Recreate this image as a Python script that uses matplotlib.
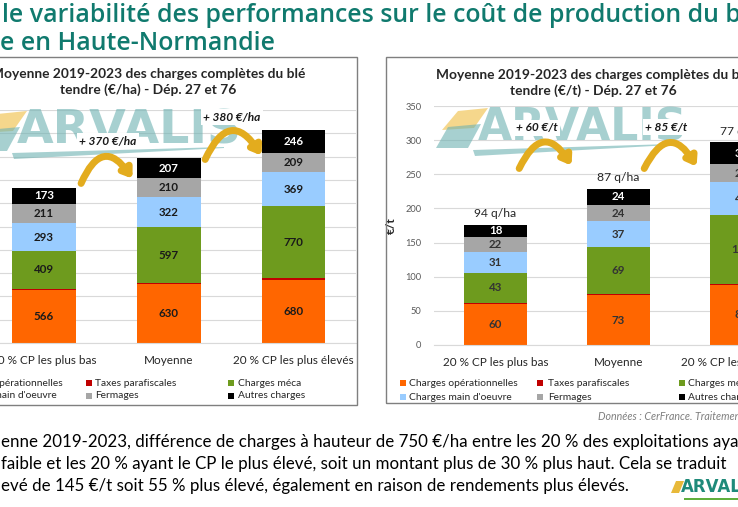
import matplotlib
matplotlib.use('Agg')
import matplotlib.pyplot as plt
from matplotlib.patches import Rectangle, Polygon, FancyArrowPatch
import numpy as np

# ---------------- data ----------------
categories = ['20 % CP les plus bas', 'Moyenne', '20 % CP les plus élevés']
series = ['Charges opérationnelles', 'Taxes parafiscales', 'Charges méca',
          "Charges main d'oeuvre", 'Fermages', 'Autres charges']
colors = ['#FF6600', '#C00000', '#6E9B1E', '#99CCFF', '#A6A6A6', '#000000']

ha_operationnelles = [566, 630, 680]
ha_taxes = [15, 15, 15]
ha_meca = [409, 597, 770]
ha_main = [293, 322, 369]
ha_fermages = [211, 210, 209]
ha_autres = [173, 207, 246]

t_operationnelles = [60, 73, 88]
t_taxes = [2, 2, 2]
t_meca = [43, 69, 100]
t_main = [31, 37, 48]
t_fermages = [22, 24, 27]
t_autres = [18, 24, 32]

yields = ['94 q/ha', '87 q/ha', '77 q/ha']
ha_diffs = ['+ 370 €/ha', '+ 380 €/ha']
t_diffs = ['+ 60 €/t', '+ 85 €/t']

ha_ticks = list(range(0, 2501, 250))
t_ticks = list(range(0, 351, 50))

title_lines = ['le variabilité des performances sur le coût de production du blé',
               'e en Haute-Normandie']
body_lines = ['enne 2019-2023, différence de charges à hauteur de 750 €/ha entre les 20 % des exploitations ayant',
              'faible et les 20 % ayant le CP le plus élevé, soit un montant plus de 30 % plus haut. Cela se traduit',
              'evé de 145 €/t soit 55 % plus élevé, également en raison de rendements plus élevés.']
chart1_title = 'Moyenne 2019-2023 des charges complètes du blé\ntendre (€/ha) - Dép. 27 et 76'
chart2_title = 'Moyenne 2019-2023 des charges complètes du blé\ntendre (€/t) - Dép. 27 et 76'
source_text = 'Données : CerFrance. Traitement ARVALIS'

# ---------------- layout helpers ----------------
W, H = 738, 507
fig = plt.figure(figsize=(W / 100, H / 100), dpi=100)
fig.patch.set_facecolor('white')
r = fig.canvas.get_renderer()
FONT = 'Lato'


def fx(p):
    return p / W


def fy(p):
    return 1 - p / H


def size_for(s, target, **kw):
    t = fig.text(0, 0, s, fontsize=10, **kw)
    w = t.get_window_extent(r).width
    t.remove()
    return 10 * target / w


TEAL = '#107A6E'
s_title = size_for('le variabilité des performances sur le coût de production du b', 738,
                   family='Open Sans', weight='semibold')
s_body = size_for(body_lines[2], 627, family=FONT)
s_ctitle = size_for('tendre (€/t) - Dép. 27 et 76', 167, family=FONT, weight='bold')
s_tick = size_for('20 % CP les plus bas', 105, family=FONT)
s_leg = size_for('Charges opérationnelles', 109, family=FONT)
s_bar = size_for('566', 20, family=FONT, weight='bold')
s_ann = size_for('+ 370 €/ha', 57, family=FONT, weight='bold', style='italic')
s_yield = size_for('87 q/ha', 42, family=FONT)
s_ytick = size_for('350', 16, family=FONT)
s_src = size_for('Données : CerFrance.', 95, family=FONT, style='italic')

# ---------------- slide text ----------------
fig.text(fx(2), fy(15), title_lines[0], fontsize=s_title, family='Open Sans',
         weight='semibold', color=TEAL, va='center', ha='left')
fig.text(fx(0), fy(43), title_lines[1], fontsize=s_title, family='Open Sans',
         weight='semibold', color=TEAL, va='center', ha='left')
for i, line in enumerate(body_lines):
    fig.text(fx(1), fy(442 + 22 * i), line, fontsize=s_body, family=FONT,
             color='black', va='center', ha='left')
fig.text(fx(598), fy(417), source_text, fontsize=s_src, family=FONT,
         style='italic', color='#7F7F7F', va='center', ha='left')

# chart boxes
fig.patches.append(Rectangle((fx(-61), fy(405)), fx(357 + 61), (405 - 57) / H,
                             transform=fig.transFigure, fill=False,
                             edgecolor='#7F7F7F', lw=1.0))
fig.patches.append(Rectangle((fx(386), fy(403)), fx(800 - 386), (403 - 57) / H,
                             transform=fig.transFigure, fill=False,
                             edgecolor='#7F7F7F', lw=1.0))


# ---------------- charts ----------------
def draw_chart(rect, data, ticks, label_fc):
    ax = fig.add_axes(rect)
    x = np.arange(len(categories))
    bottom = np.zeros(len(categories))
    for k, (vals, c) in enumerate(zip(data, colors)):
        vals = np.array(vals, dtype=float)
        ax.bar(x, vals, width=0.51, bottom=bottom, color=c, edgecolor='none', zorder=2)
        if k != 1:
            tc = 'white' if c == '#000000' else label_fc
            for xi, b, v in zip(x, bottom, vals):
                ax.text(xi, b + v / 2, f'{v:.0f}', ha='center', va='center',
                        fontsize=s_bar, family=FONT, weight='bold', color=tc, zorder=3)
        bottom += vals
    ax.set_xlim(-0.5, 2.5)
    ax.set_ylim(ticks[0], ticks[-1])
    ax.set_yticks(ticks)
    ax.yaxis.grid(True, color='#D9D9D9', lw=0.8, zorder=0)
    ax.set_axisbelow(True)
    for sp in ['top', 'right', 'left']:
        ax.spines[sp].set_visible(False)
    ax.spines['bottom'].set_color('#D9D9D9')
    ax.set_xticks(x)
    ax.set_xticklabels(categories, fontsize=s_tick, family=FONT, color='#262626')
    ax.tick_params(axis='x', length=0, pad=9)
    ax.tick_params(axis='y', length=0, pad=9, labelsize=s_ytick, labelcolor='#595959')
    for lab in ax.get_yticklabels():
        lab.set_family(FONT)
    ax.patch.set_alpha(0)
    return ax, bottom


ha_data = [ha_operationnelles, ha_taxes, ha_meca, ha_main, ha_fermages, ha_autres]
t_data = [t_operationnelles, t_taxes, t_meca, t_main, t_fermages, t_autres]

ax1, tot1 = draw_chart([fx(-18.5), 1 - 343 / H, fx(374.5), (343 - 110) / H],
                       ha_data, ha_ticks, '#1A1A1A')
ax2, tot2 = draw_chart([fx(434), 1 - 345 / H, fx(369), (345 - 106) / H],
                       t_data, t_ticks, '#333333')
ax2.set_ylabel('€/t', fontsize=s_tick, family=FONT, weight='bold', color='#262626',
               labelpad=6)

for xi, (tot, y) in enumerate(zip(tot2, yields)):
    ax2.annotate(y, (xi, tot), xytext=(0, 4), textcoords='offset points',
                 ha='center', va='bottom', fontsize=s_yield, family=FONT, color='#262626')

# chart titles
fig.text(fx(148), fy(82), chart1_title, ha='center', va='center', fontsize=s_ctitle,
         family=FONT, weight='bold', color='#262626', linespacing=1.3)
fig.text(fx(593), fy(83), chart2_title, ha='center', va='center', fontsize=s_ctitle,
         family=FONT, weight='bold', color='#262626', linespacing=1.3)

# legends
leg_cols = {'left': ([-55, 86, 228], [-46, 95, 238], [383, 396]),
            'right': ([400, 537, 679], [409, 548, 688], [383, 397])}
for key in ['left', 'right']:
    mx, tx, rows = leg_cols[key]
    for i, (name, c) in enumerate(zip(series, colors)):
        col, row = i % 3, i // 3
        fig.patches.append(Rectangle((fx(mx[col]), fy(rows[row] + 3)), fx(6), 6 / H,
                                     transform=fig.transFigure, color=c, lw=0))
        fig.text(fx(tx[col]), fy(rows[row]), name, fontsize=s_leg, family=FONT,
                 color='#262626', va='center', ha='left')


# ---------------- watermark logos ----------------
WM = '#6DB2B2'


def logo(x0, yc, width, alpha=0.6):
    s = size_for('ARVALIS', width, family='DejaVu Sans', weight='bold')
    fig.text(fx(x0), fy(yc), 'ARVALIS', fontsize=s, family='DejaVu Sans', weight='bold',
             color=WM, alpha=alpha, va='center', ha='left', zorder=4)
    # leaf
    fig.patches.append(Polygon([(fx(x0 - 36), fy(yc + 2)), (fx(x0 - 20), fy(yc - 17)),
                                (fx(x0 + 10), fy(yc - 20)), (fx(x0 - 4), fy(yc))],
                               closed=True, transform=fig.transFigure,
                               color='#F2C75C', alpha=0.7, lw=0, zorder=4))
    fig.patches.append(Polygon([(fx(x0 - 42), fy(yc + 20)), (fx(x0 - 30), fy(yc - 1)),
                                (fx(x0 + 3), fy(yc - 4)), (fx(x0 - 10), fy(yc + 20))],
                               closed=True, transform=fig.transFigure,
                               color=WM, alpha=alpha, lw=0, zorder=4))
    # swoosh
    fig.patches.append(Polygon([(fx(x0 - 5), fy(yc + 22)), (fx(x0 + width * 0.92), fy(yc + 16)),
                                (fx(x0 + width * 0.92), fy(yc + 17)), (fx(x0 - 3), fy(yc + 28))],
                               closed=True, transform=fig.transFigure,
                               color=WM, alpha=alpha, lw=0, zorder=4))


logo(17, 131, 225)
logo(478, 128, 210)

# bottom-right logo
fig.text(fx(681), fy(487), 'ARVALIS', fontsize=12, family='DejaVu Sans', weight='bold',
         color='#1F8A7A', va='center', ha='left')
fig.patches.append(Polygon([(fx(671), fy(493)), (fx(676), fy(481)), (fx(684), fy(481)),
                            (fx(679), fy(493))], closed=True, transform=fig.transFigure,
                           color='#E8B93A', lw=0))
fig.patches.append(Rectangle((fx(684), fy(500)), fx(60), 2 / H, transform=fig.transFigure,
                             color='#5FAF3C', lw=0))


# ---------------- gold arrows + difference labels ----------------
def arrow(p0, p1, rad=-0.95):
    a = FancyArrowPatch((fx(p0[0]), fy(p0[1])), (fx(p1[0]), fy(p1[1])),
                        transform=fig.transFigure, connectionstyle=f'arc3,rad={rad}',
                        arrowstyle='-|>,head_length=5,head_width=3.5', color='#E3AC1E',
                        lw=5, zorder=5)
    fig.patches.append(a)


arrow((80, 186), (134, 181))
arrow((204, 162), (263, 158))
arrow((518, 171), (573, 168))
arrow((643, 171), (698, 169))

box = dict(facecolor='white', edgecolor='none', pad=1.5)
for (cx, cy), s in zip([(108, 141), (232, 117)], ha_diffs):
    fig.text(fx(cx), fy(cy), s, ha='center', va='center', fontsize=s_ann, family=FONT,
             weight='bold', style='italic', color='#1A1A1A', bbox=box, zorder=6)
for (cx, cy), s in zip([(537, 128), (666, 127)], t_diffs):
    fig.text(fx(cx), fy(cy), s, ha='center', va='center', fontsize=s_ann, family=FONT,
             weight='bold', style='italic', color='#1A1A1A', bbox=box, zorder=6)

fig.savefig('out.png', dpi=100, facecolor='white')
